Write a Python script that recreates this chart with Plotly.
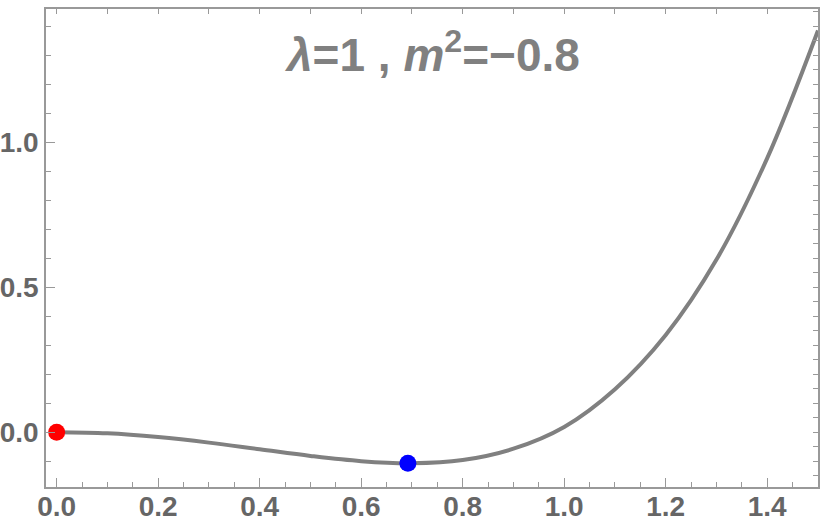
import plotly.graph_objects as go

# Curve values
phi = [0.0, 0.1, 0.2, 0.3, 0.4, 0.5, 0.6, 0.7, 0.8, 0.9, 1.0, 1.1, 1.2, 1.3, 1.4, 1.5]
V = [0.0, -0.004, -0.017, -0.036, -0.059, -0.082, -0.100, -0.107, -0.096, -0.057,
     0.018, 0.148, 0.335, 0.595, 0.945, 1.385]

# Marked points
red_pt = ([0.0], [0.0])
blue_pt = ([0.692], [-0.107])

x_ticks = [0.0, 0.2, 0.4, 0.6, 0.8, 1.0, 1.2, 1.4]
y_ticks = [0.0, 0.5, 1.0]

title_text = "<i>λ</i>=1 , <i>m</i><sup>2</sup>=−0.8"

xr = [-0.021, 1.5]
yr = [-0.189, 1.459]

frame_col = "#999999"
lab_col = "#666666"
font_fam = "Liberation Sans, Arial, sans-serif"

fig = go.Figure()
fig.add_trace(go.Scatter(x=phi, y=V, mode="lines", line=dict(color="#808080", width=4, shape="spline"),
                         hoverinfo="skip", showlegend=False))
fig.add_trace(go.Scatter(x=red_pt[0], y=red_pt[1], mode="markers",
                         marker=dict(color="#ff0000", size=17), showlegend=False, cliponaxis=False))
fig.add_trace(go.Scatter(x=blue_pt[0], y=blue_pt[1], mode="markers",
                         marker=dict(color="#0000ff", size=17), showlegend=False, cliponaxis=False))
# invisible trace to activate top/right frame axes
fig.add_trace(go.Scatter(x=[0.0], y=[0.0], xaxis="x2", yaxis="y2", mode="markers",
                         marker=dict(opacity=0), showlegend=False, hoverinfo="skip"))

fig.update_layout(
    width=830, height=528,
    margin=dict(l=46, r=12, t=9, b=41),
    plot_bgcolor="white", paper_bgcolor="white",
    font=dict(family=font_fam, color=lab_col),
    xaxis=dict(range=xr, tickvals=x_ticks, tickformat=".1f", ticks="inside", ticklen=9, tickwidth=1,
               tickcolor=frame_col, showline=True, linecolor=frame_col, linewidth=1.5, showgrid=False,
               zeroline=False, automargin=False,
               tickfont=dict(size=28, family=font_fam, color=lab_col, weight="bold"),
               minor=dict(ticks="inside", dtick=0.05, tick0=0, ticklen=5, tickcolor=frame_col, showgrid=False),
               ticklabelstandoff=-6),
    yaxis=dict(range=yr, tickvals=y_ticks, tickformat=".1f", ticks="inside", ticklen=9, tickwidth=1,
               tickcolor=frame_col, showline=True, linecolor=frame_col, linewidth=1.5, showgrid=False,
               zeroline=False, automargin=False,
               tickfont=dict(size=28, family=font_fam, color=lab_col, weight="bold"),
               minor=dict(ticks="inside", dtick=0.1, tick0=0, ticklen=5, tickcolor=frame_col, showgrid=False),
               ticklabelstandoff=0),
    xaxis2=dict(range=xr, overlaying="x", side="top", dtick=0.1, tick0=0, ticks="inside", ticklen=5,
                tickcolor=frame_col, showticklabels=False, showline=True, linecolor=frame_col, linewidth=1.5,
                showgrid=False, zeroline=False, automargin=False),
    yaxis2=dict(range=yr, overlaying="y", side="right", dtick=0.05, tick0=0, ticks="inside", ticklen=5,
                tickcolor=frame_col, showticklabels=False, showline=True, linecolor=frame_col, linewidth=1.5,
                showgrid=False, zeroline=False, automargin=False),
    annotations=[dict(text=title_text, x=0.5, xref="paper", y=1.31, yref="y", xanchor="center",
                      yanchor="middle", showarrow=False,
                      font=dict(size=46, family=font_fam, color="#808080", weight="bold"))],
)

fig.write_html("out.html", config={"displayModeBar": False},
               post_script="document.body.style.margin='0';")
